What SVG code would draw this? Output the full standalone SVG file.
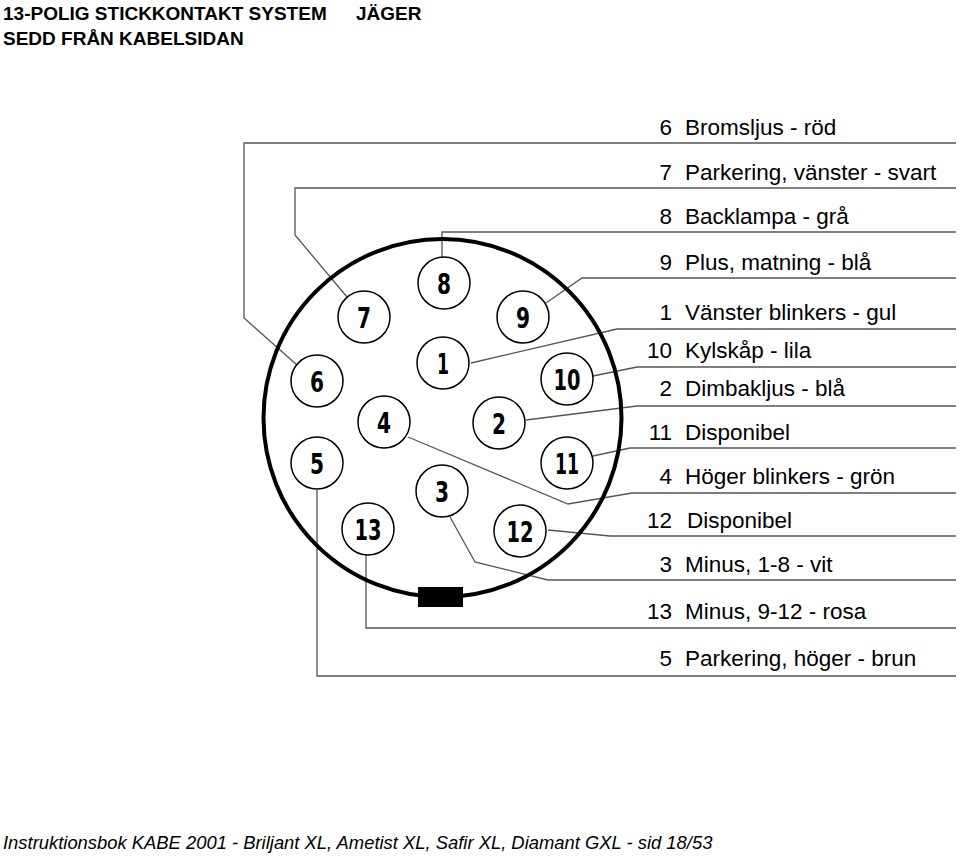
<svg xmlns="http://www.w3.org/2000/svg" width="960" height="856" viewBox="0 0 960 856">
<style>
.t{font-family:"Liberation Sans",Arial,sans-serif;font-size:22.5px;fill:#000}
.h{font-family:"Liberation Sans",Arial,sans-serif;font-size:19px;font-weight:bold;fill:#000}
.f{font-family:"Liberation Sans",Arial,sans-serif;font-size:18.4px;font-style:italic;fill:#000}
.p{fill:#fff;stroke:#000;stroke-width:1.5}
.n{font-family:"DejaVu Sans Condensed","DejaVu Sans",sans-serif;font-weight:bold;font-size:29px;text-anchor:middle;fill:#000}
.c{fill:none;stroke:#555;stroke-width:1.3}
</style>
<rect width="960" height="856" fill="#fff"/>
<text class="h" x="3" y="20">13-POLIG STICKKONTAKT SYSTEM</text><text class="h" x="356" y="20">JÄGER</text>
<text class="h" x="3" y="45">SEDD FRÅN KABELSIDAN</text>
<g id="connectors">
<polyline class="c" points="956,143 244,143 244,318 297,365"/>
<polyline class="c" points="956,188 295,188 295,235 347,297"/>
<polyline class="c" points="956,232 442,232 442,258"/>
<polyline class="c" points="956,278 582,278 546,303"/>
<polyline class="c" points="956,329 617,329 471,363"/>
<polyline class="c" points="956,367 637,367 593,376"/>
<polyline class="c" points="956,406 637,406 526,420"/>
<polyline class="c" points="956,448 630,448 593,456"/>
<polyline class="c" points="956,493 632,493 568,504 408,437"/>
<polyline class="c" points="956,536 610,536 548,530"/>
<polyline class="c" points="956,580 548,580 475,562 450,517"/>
<polyline class="c" points="956,628 366,628 366,555"/>
<polyline class="c" points="956,676 317,676 317,490"/>
</g>
<g id="housing">
<circle cx="442.5" cy="418" r="179" fill="none" stroke="#000" stroke-width="4"/>
<rect x="418" y="587" width="45" height="20" fill="#000"/>
</g>
<g id="pin6"><circle class="p" cx="317" cy="381" r="26"/><text class="n" x="317" y="392" textLength="14" lengthAdjust="spacingAndGlyphs">6</text></g>
<g id="pin7"><circle class="p" cx="364" cy="317" r="26"/><text class="n" x="364" y="328" textLength="14" lengthAdjust="spacingAndGlyphs">7</text></g>
<g id="pin8"><circle class="p" cx="444" cy="283" r="26"/><text class="n" x="444" y="294" textLength="14" lengthAdjust="spacingAndGlyphs">8</text></g>
<g id="pin9"><circle class="p" cx="523" cy="317" r="26"/><text class="n" x="523" y="328" textLength="14" lengthAdjust="spacingAndGlyphs">9</text></g>
<g id="pin1"><circle class="p" cx="443" cy="363" r="26"/><text class="n" x="443" y="374" textLength="12" lengthAdjust="spacingAndGlyphs">1</text></g>
<g id="pin10"><circle class="p" cx="567" cy="379" r="26"/><text class="n" x="567" y="390" textLength="27" lengthAdjust="spacingAndGlyphs">10</text></g>
<g id="pin4"><circle class="p" cx="384" cy="422" r="26"/><text class="n" x="384" y="433" textLength="14" lengthAdjust="spacingAndGlyphs">4</text></g>
<g id="pin2"><circle class="p" cx="499" cy="423" r="26"/><text class="n" x="499" y="434" textLength="14" lengthAdjust="spacingAndGlyphs">2</text></g>
<g id="pin5"><circle class="p" cx="317" cy="463" r="26"/><text class="n" x="317" y="474" textLength="14" lengthAdjust="spacingAndGlyphs">5</text></g>
<g id="pin11"><circle class="p" cx="567" cy="463" r="26"/><text class="n" x="567" y="474" textLength="24" lengthAdjust="spacingAndGlyphs">11</text></g>
<g id="pin3"><circle class="p" cx="442" cy="491" r="26"/><text class="n" x="442" y="502" textLength="14" lengthAdjust="spacingAndGlyphs">3</text></g>
<g id="pin13"><circle class="p" cx="368" cy="529" r="26"/><text class="n" x="368" y="540" textLength="27" lengthAdjust="spacingAndGlyphs">13</text></g>
<g id="pin12"><circle class="p" cx="520" cy="531" r="26"/><text class="n" x="520" y="542" textLength="27" lengthAdjust="spacingAndGlyphs">12</text></g>
<g id="labels">
<text class="t" x="672" y="135" text-anchor="end">6</text><text class="t" x="685" y="135">Bromsljus - röd</text>
<text class="t" x="672" y="180" text-anchor="end">7</text><text class="t" x="685" y="180">Parkering, vänster - svart</text>
<text class="t" x="672" y="224" text-anchor="end">8</text><text class="t" x="685" y="224">Backlampa - grå</text>
<text class="t" x="672" y="270" text-anchor="end">9</text><text class="t" x="685" y="270">Plus, matning - blå</text>
<text class="t" x="672" y="320" text-anchor="end">1</text><text class="t" x="685" y="320">Vänster blinkers - gul</text>
<text class="t" x="672" y="358" text-anchor="end">10</text><text class="t" x="685" y="358">Kylskåp - lila</text>
<text class="t" x="672" y="396" text-anchor="end">2</text><text class="t" x="685" y="396">Dimbakljus - blå</text>
<text class="t" x="672" y="440" text-anchor="end">11</text><text class="t" x="685" y="440">Disponibel</text>
<text class="t" x="672" y="484" text-anchor="end">4</text><text class="t" x="685" y="484">Höger blinkers - grön</text>
<text class="t" x="672" y="528" text-anchor="end">12</text><text class="t" x="687" y="528">Disponibel</text>
<text class="t" x="672" y="572" text-anchor="end">3</text><text class="t" x="685" y="572">Minus, 1-8 - vit</text>
<text class="t" x="672" y="619" text-anchor="end">13</text><text class="t" x="685" y="619">Minus, 9-12 - rosa</text>
<text class="t" x="672" y="666" text-anchor="end">5</text><text class="t" x="685" y="666">Parkering, höger - brun</text>
</g>
<text class="f" x="3" y="849">Instruktionsbok KABE 2001 - Briljant XL, Ametist XL, Safir XL, Diamant GXL - sid 18/53</text>
</svg>
